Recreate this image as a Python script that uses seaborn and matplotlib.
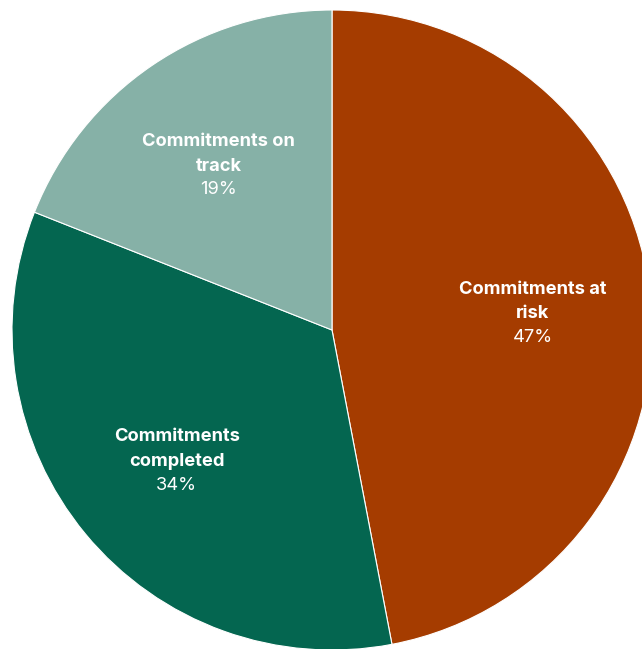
import matplotlib
matplotlib.use("Agg")
import matplotlib.pyplot as plt
import matplotlib.transforms as mtransforms
import numpy as np
import seaborn as sns

labels = ["Commitments at\nrisk", "Commitments\ncompleted", "Commitments on\ntrack"]
values = [47, 34, 19]
colors = ["#A53C00", "#046650", "#86B1A7"]

sns.set_style("white")
plt.rcParams['font.family'] = ['Inter', 'DejaVu Sans']

fig = plt.figure(figsize=(6.42, 6.49), dpi=100)
ax = fig.add_axes([0, 0, 1, 1])
wedges, _ = ax.pie(values, colors=colors, startangle=90, counterclock=False,
                   radius=1.0, wedgeprops=dict(edgecolor="white", linewidth=0.8))
ax.set_xlim(-332/320, (642-332)/320)
ax.set_ylim(-(649-330)/320, 330/320)
ax.set_aspect('auto')
ax.axis('off')

total = sum(values)
start = 90.0
for lab, v in zip(labels, values):
    mid = start - 360 * v / total / 2
    start -= 360 * v / total
    r = 0.63
    x, y = r*np.cos(np.radians(mid)), r*np.sin(np.radians(mid))
    t1 = mtransforms.offset_copy(ax.transData, fig=fig, x=0, y=9.5*0.72, units='points')
    t2 = mtransforms.offset_copy(ax.transData, fig=fig, x=0, y=-26.5*0.72, units='points')
    ax.text(x, y, lab, transform=t1, ha='center', va='center', color='white',
            fontsize=13.2, fontweight='bold', linespacing=1.6)
    ax.text(x, y, f"{v}%", transform=t2, ha='center', va='center', color='white',
            fontsize=13.2)

fig.savefig("out.png", dpi=100)
